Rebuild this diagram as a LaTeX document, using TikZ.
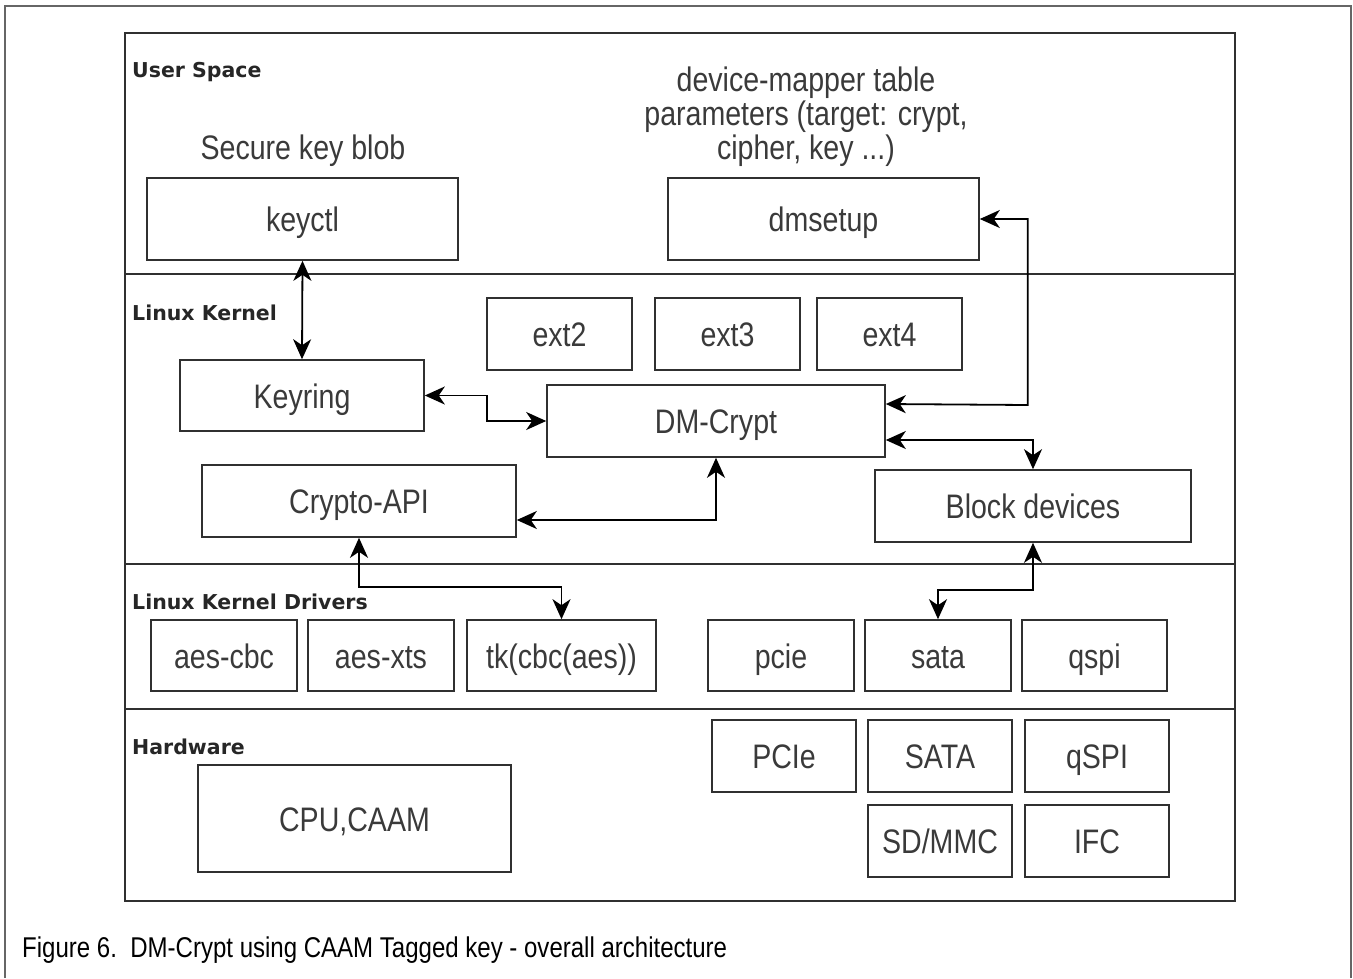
\documentclass[tikz,border=0pt]{standalone}
\usepackage{fontspec}
\setmainfont{Liberation Sans}
\newfontfamily\boxfont[FakeStretch=0.84]{Liberation Sans}
\newfontfamily\layerfont{DejaVu Sans}
\usetikzlibrary{arrows.meta}
\definecolor{boxtext}{HTML}{3A3A3A}
\definecolor{frameline}{HTML}{303030}
\tikzset{
  box/.style={draw=frameline, line width=1.6pt, inner sep=0pt,
    text height=27pt, text depth=2pt,
    font=\boxfont\fontsize{34}{38}\selectfont, text=boxtext},
  layerlbl/.style={anchor=west, inner sep=0pt,
    font=\layerfont\bfseries\fontsize{20.5}{22}\selectfont, text=black!85},
  note/.style={align=center, inner sep=0pt,
    font=\boxfont\fontsize{34}{34}\selectfont, text=boxtext},
  link/.style={line width=1.8pt, {Stealth[length=20pt,width=18pt,inset=6pt]}-{Stealth[length=20pt,width=18pt,inset=6pt]}}
}
\begin{document}
\begin{tikzpicture}[x=1pt,y=-1pt]
\useasboundingbox (0,0) rectangle (1353,978);
% outer frame, open at the bottom
\draw[line width=1.2pt, gray!80!black] (5,978) -- (5,6) -- (1351,6) -- (1351,978);
% inner frame and layer dividers
\draw[line width=2pt, frameline] (125,33) rectangle (1235,901);
\foreach \y in {274,564,709}
  \draw[line width=2pt, frameline] (125,\y) -- (1235,\y);
% layer names
\node[layerlbl] (lUser) at (132,72) {User Space};
\node[layerlbl] (lKernel) at (132,313) {Linux Kernel};
\node[layerlbl] (lDrivers) at (132,602) {Linux Kernel Drivers};
\node[layerlbl] (lHw) at (132,747) {Hardware};
% user space
\node[note] (blob) at (303,151) {Secure key blob};
\node[note] (dmtable) at (806,117) {device-mapper table\\parameters (target: crypt,\\cipher, key ...)};
\node[box, minimum width=311pt, minimum height=82pt] (keyctl) at (302.5,219) {keyctl};
\node[box, minimum width=311pt, minimum height=82pt] (dmsetup) at (823.5,219) {dmsetup};
% kernel
\node[box, minimum width=145pt, minimum height=72pt] (ext2) at (559.5,334) {ext2};
\node[box, minimum width=145pt, minimum height=72pt] (ext3) at (727.5,334) {ext3};
\node[box, minimum width=145pt, minimum height=72pt] (ext4) at (889.5,334) {ext4};
\node[box, minimum width=244pt, minimum height=71pt] (Keyring) at (302,395.5) {Keyring};
\node[box, minimum width=338pt, minimum height=72pt] (DMCrypt) at (716,421) {DM-Crypt};
\node[box, minimum width=314pt, minimum height=72pt] (CryptoAPI) at (359,501) {Crypto-API};
\node[box, minimum width=316pt, minimum height=72pt] (Block) at (1033,506) {Block devices};
% drivers
\node[box, minimum width=146pt, minimum height=71pt] (aescbc) at (224,655.5) {aes-cbc};
\node[box, minimum width=146pt, minimum height=71pt] (aesxts) at (381,655.5) {aes-xts};
\node[box, minimum width=189pt, minimum height=71pt] (tk) at (561.5,655.5) {tk(cbc(aes))};
\node[box, minimum width=146pt, minimum height=71pt] (pcie) at (781,655.5) {pcie};
\node[box, minimum width=146pt, minimum height=71pt] (sata) at (938,655.5) {sata};
\node[box, minimum width=145pt, minimum height=71pt] (qspi) at (1094.5,655.5) {qspi};
% hardware
\node[box, minimum width=313pt, minimum height=107pt] (cpu) at (354.5,818.5) {CPU,CAAM};
\node[box, minimum width=144pt, minimum height=72pt] (PCIe) at (784,756) {PCIe};
\node[box, minimum width=144pt, minimum height=72pt] (SATA) at (940,756) {SATA};
\node[box, minimum width=144pt, minimum height=72pt] (qSPI) at (1097,756) {qSPI};
\node[box, minimum width=144pt, minimum height=72pt] (SDMMC) at (940,841) {SD/MMC};
\node[box, minimum width=144pt, minimum height=72pt] (IFC) at (1097,841) {IFC};
% connectors
\draw[link] (keyctl.south) -- (Keyring.north);
\draw[link] (Keyring.east) -- ++(62,0) |- (DMCrypt.west);
\draw[link] ([yshift=-19pt]CryptoAPI.east) -| (DMCrypt.south);
\draw[link] (dmsetup.east) -| ++(48,186) -- ([yshift=17pt]DMCrypt.east);
\draw[link] ([yshift=-19pt]DMCrypt.east) -| (Block.north);
\draw[link] (Block.south) -- ++(0,47) -| (sata.north);
\draw[link] (CryptoAPI.south) -- ++(0,49) -| (tk.north);
% caption
\node[anchor=west, inner sep=0pt, font=\boxfont\fontsize{28.6}{30}\selectfont] (caption) at (22,950) {Figure 6.\ \ DM-Crypt using CAAM Tagged key - overall architecture};
\end{tikzpicture}
\end{document}
